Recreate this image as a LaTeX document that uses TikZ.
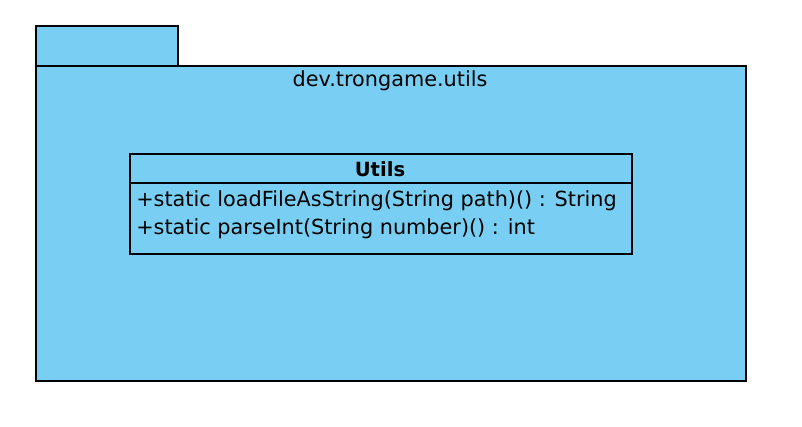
\documentclass[tikz,border=0pt]{standalone}
\usepackage{fontspec}
\setmainfont{DejaVu Sans}
\definecolor{pkgblue}{HTML}{79CFF3}
\begin{document}
\begin{tikzpicture}[x=0.75pt,y=-0.75pt,
  box/.style={draw=black,fill=pkgblue,line width=1.1pt},
  txt/.style={font=\fontsize{15.6}{18}\selectfont,inner sep=0pt}]
\useasboundingbox (0,0) rectangle (802,426);
\draw[box] (36,26) rectangle (178,66);
\draw[box] (36,66) rectangle (746,381);
\node[txt] (pkg) at (390,81) {dev.trongame.utils};
\draw[box] (130,154) rectangle (632,254);
\draw[line width=1.1pt] (130,183) -- (632,183);
\node[txt,font=\fontsize{14.7}{18}\selectfont\bfseries] (cls) at (380,169) {Utils};
\node[txt,anchor=west] (m1) at (136,201) {+static loadFileAsString(String path)() : String};
\node[txt,anchor=west] (m2) at (136,229) {+static parseInt(String number)() : int};
\end{tikzpicture}
\end{document}
